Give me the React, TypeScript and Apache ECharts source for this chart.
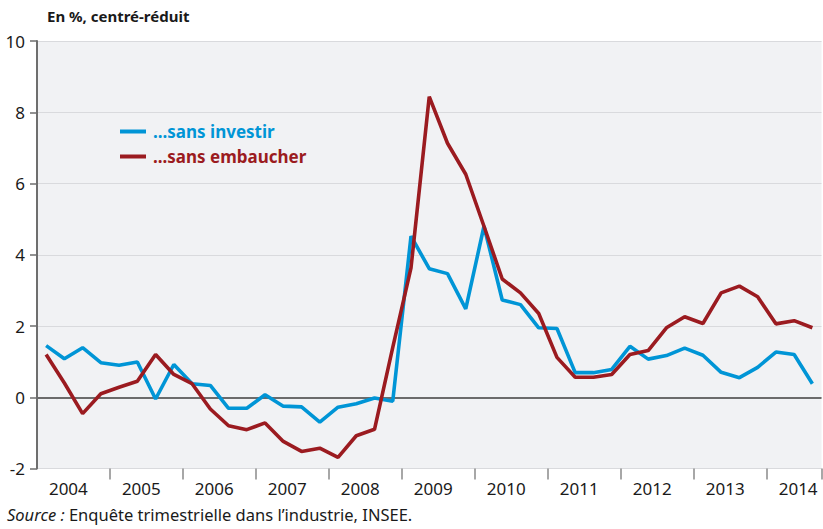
import React, { useEffect, useRef } from "react";
import * as echarts from "echarts";

const years = ["2004","2005","2006","2007","2008","2009","2010","2011","2012","2013","2014"];
const quarters = ["T1","T2","T3","T4"];
const categories: string[] = [];
years.forEach((y) => quarters.forEach((q) => categories.push(y + q)));
categories.length = 43; // 2004T1 .. 2014T3

const sansInvestir = [
  1.45, 1.08, 1.39, 0.97, 0.90, 0.99, -0.05, 0.92, 0.38, 0.33,
  -0.31, -0.31, 0.07, -0.25, -0.27, -0.70, -0.28, -0.18, -0.02, -0.11,
  4.52, 3.61, 3.47, 2.48, 4.80, 2.73, 2.60, 1.95, 1.93, 0.69,
  0.69, 0.78, 1.43, 1.07, 1.17, 1.38, 1.18, 0.70, 0.55, 0.84,
  1.27, 1.20, 0.38,
];
const sansEmbaucher = [
  1.20, 0.40, -0.46, 0.10, 0.28, 0.45, 1.20, 0.64, 0.38, -0.33,
  -0.80, -0.91, -0.72, -1.24, -1.52, -1.43, -1.69, -1.08, -0.90, 1.40,
  3.63, 8.44, 7.13, 6.26, 4.80, 3.32, 2.93, 2.35, 1.12, 0.56,
  0.56, 0.64, 1.20, 1.31, 1.95, 2.26, 2.07, 2.93, 3.12, 2.82,
  2.06, 2.15, 1.95,
];
const yTicks = { min: -2, max: 10, interval: 2 };

const FONT = "'Noto Sans', 'Open Sans', sans-serif";
const BLUE = "#0095d6";
const RED = "#9b1b20";

export default function App() {
  const ref = useRef<HTMLDivElement>(null);
  useEffect(() => {
    if (!ref.current) return;
    const chart = echarts.init(ref.current, undefined, { renderer: "svg" });
    chart.setOption({
      animation: false,
      backgroundColor: "#ffffff",
      textStyle: { fontFamily: FONT },
      title: {
        text: "En %, centré-réduit",
        left: 42,
        top: 3,
        textStyle: { fontFamily: FONT, fontSize: 15, fontWeight: "bold", color: "#1a1a1a" },
      },
      legend: {
        orient: "vertical",
        left: 115,
        top: 118,
        icon: "rect",
        itemWidth: 26,
        itemHeight: 4,
        itemGap: 8,
        textStyle: { fontFamily: FONT, fontSize: 17, fontWeight: "bold", padding: [0, 0, 0, 2] },
        data: [
          { name: "...sans investir", textStyle: { color: BLUE } },
          { name: "...sans embaucher", textStyle: { color: RED } },
        ],
      },
      grid: {
        left: 37,
        right: 1.5,
        top: 41,
        bottom: 60.5,
        show: true,
        backgroundColor: "#f1f2f4",
        borderWidth: 0,
      },
      xAxis: {
        type: "category",
        data: categories,
        boundaryGap: true,
        axisLine: { show: false, onZero: false },
        axisTick: {
          show: true,
          length: 11,
          interval: (i: number) => i % 4 === 0 && i !== 0,
          lineStyle: { color: "#8a8a8a", width: 1.5 },
        },
        axisLabel: {
          interval: (i: number) => i % 4 === 1,
          formatter: (v: string) => v.slice(0, 4),
          fontFamily: FONT,
          fontSize: 17,
          color: "#1a1a1a",
          margin: 11,
          padding: [0, 0, 0, 8],
        },
        splitLine: { show: false },
      },
      yAxis: {
        type: "value",
        min: yTicks.min,
        max: yTicks.max,
        interval: yTicks.interval,
        axisLine: { show: true, lineStyle: { color: "#6e6e6e", width: 2 } },
        axisTick: { show: true, length: 7, lineStyle: { color: "#6e6e6e", width: 1.5 } },
        axisLabel: { fontFamily: FONT, fontSize: 17, color: "#1a1a1a", margin: 12 },
        splitLine: { show: true, lineStyle: { color: "#d9dadd", width: 1.2 } },
      },
      series: [
        {
          name: "...sans investir",
          type: "line",
          data: sansInvestir,
          symbol: "none",
          lineStyle: { color: BLUE, width: 3.6 },
          itemStyle: { color: BLUE },
          markLine: {
            silent: true,
            symbol: "none",
            label: { show: false },
            lineStyle: { color: "#6b6b6b", width: 2, type: "solid" },
            data: [{ yAxis: 0 }],
            z: 1,
          },
        },
        {
          name: "...sans embaucher",
          type: "line",
          data: sansEmbaucher,
          symbol: "none",
          lineStyle: { color: RED, width: 3.6 },
          itemStyle: { color: RED },
        },
      ],
      graphic: [
        {
          type: "text",
          left: 7,
          top: 506,
          style: {
            text: "{i|Source :} Enquête trimestrielle dans l’industrie, INSEE.",
            fontFamily: FONT,
            fontSize: 16.5,
            fill: "#1a1a1a",
            rich: {
              i: { fontFamily: FONT, fontSize: 16.5, fontStyle: "italic", fill: "#1a1a1a" },
            },
          },
        },
      ],
    });
    return () => chart.dispose();
  }, []);
  return <div ref={ref} style={{ width: 823, height: 529, position: "absolute", left: 0, top: 0 }} />;
}
